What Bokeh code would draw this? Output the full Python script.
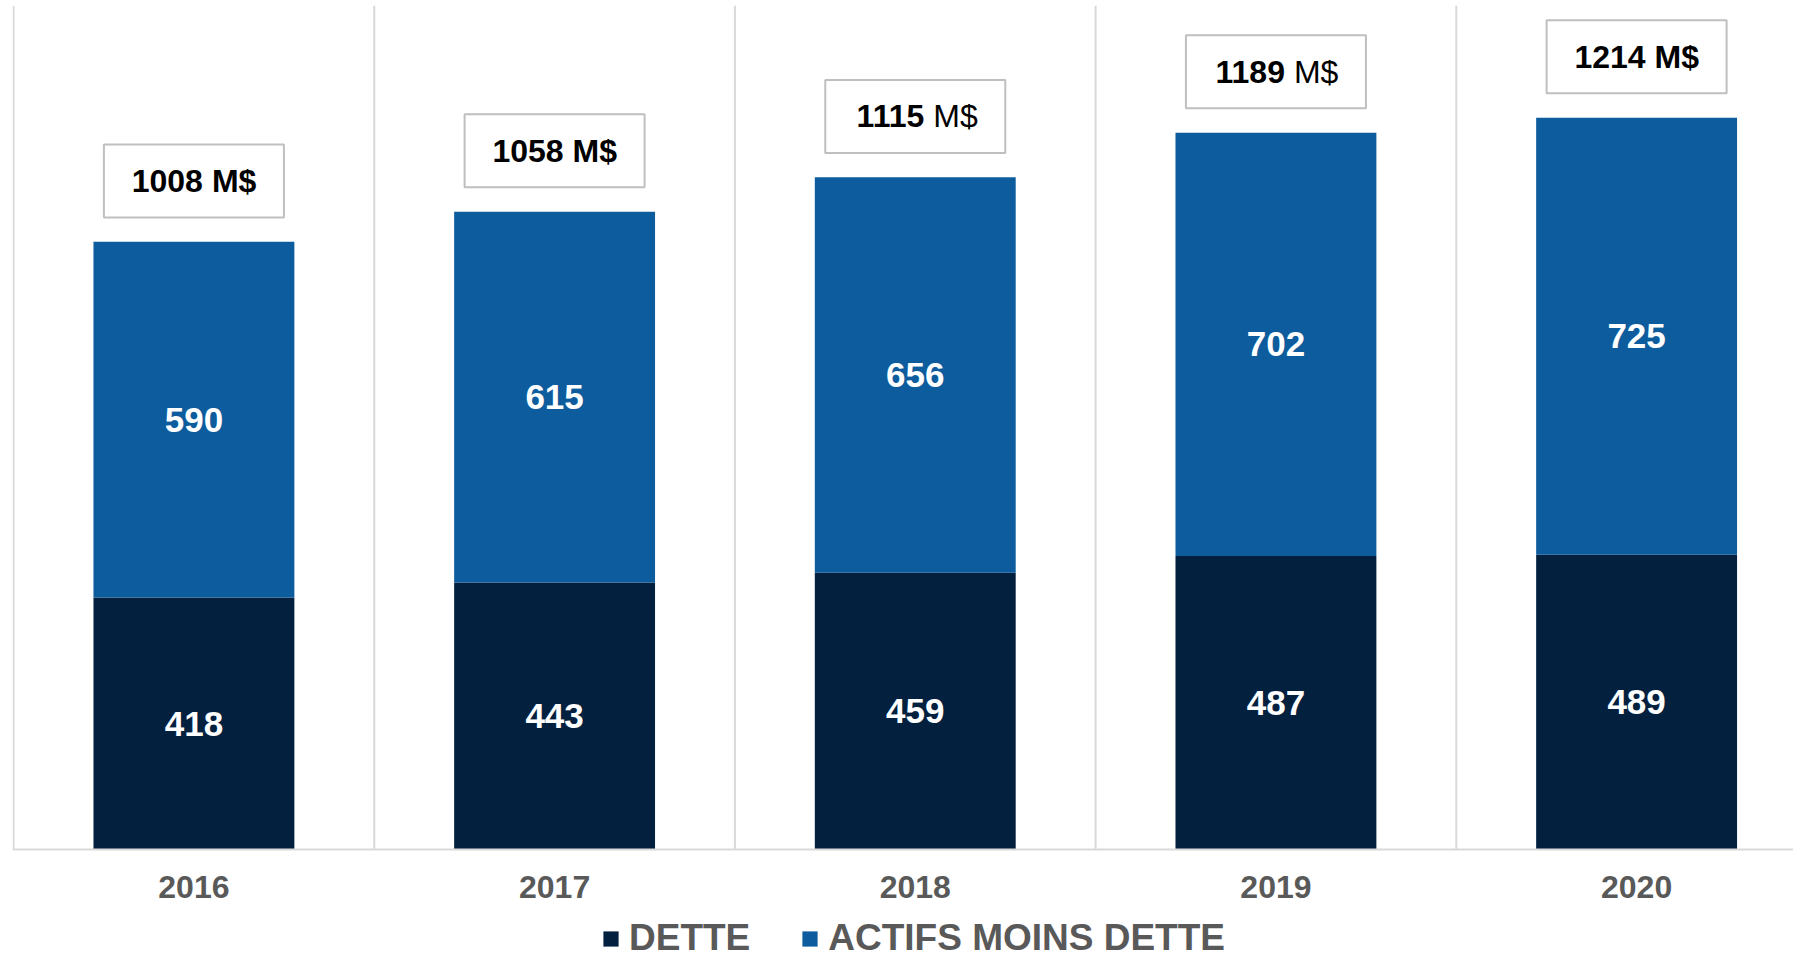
from bokeh.plotting import figure
from bokeh.models import ColumnDataSource, Range1d, Legend, LegendItem, Span
from bokeh.embed import file_html
from bokeh.resources import INLINE
from bokeh.core.properties import value

# ---- data ----
years = ["2016", "2017", "2018", "2019", "2020"]
dette = [418, 443, 459, 487, 489]
actifs_moins_dette = [590, 615, 656, 702, 725]
total_unit = "M$"
unit_style = ["bold", "bold", "normal", "normal", "bold"]
series_names = ["DETTE", "ACTIFS MOINS DETTE"]

# ---- style ----
NAVY = "#03203F"
BLUE = "#0D5C9D"
GRID = "#D9D9D9"
GREY_TXT = "#595959"
FONT = "Liberation Sans"
Y_TOP = 1400
Y_BOTTOM = -184

xs = list(range(len(years)))
totals = [d + a for d, a in zip(dette, actifs_moins_dette)]

src = ColumnDataSource(dict(
    x=xs,
    dette=dette,
    actifs=actifs_moins_dette,
    dette_mid=[d / 2 for d in dette],
    actifs_mid=[d + a / 2 for d, a in zip(dette, actifs_moins_dette)],
    dette_txt=[str(d) for d in dette],
    actifs_txt=[str(a) for a in actifs_moins_dette],
    total=totals,
    box_y=[t + 101 for t in totals],
    total_txt=[str(t) for t in totals],
    unit_txt=[total_unit] * len(years),
    unit_style=unit_style,
    year=years,
    zero=[0] * len(years),
))

p = figure(width=1793, height=960, output_backend="svg", toolbar_location=None,
           x_range=Range1d(-0.503, 4.435), y_range=Range1d(Y_BOTTOM, Y_TOP),
           x_axis_location=None, y_axis_location=None,
           min_border_left=12, min_border_right=0,
           min_border_top=5, min_border_bottom=0)
p.outline_line_color = None
p.background_fill_color = "white"
p.xgrid.grid_line_color = None
p.ygrid.grid_line_color = None

# category separators (between categories) and baseline
sep_x = [i - 0.5 for i in xs]
p.segment(x0=sep_x, y0=[0] * len(sep_x), x1=sep_x, y1=[Y_TOP] * len(sep_x),
          line_color=GRID, line_width=2)
p.add_layout(Span(location=0, dimension="width", line_color=GRID, line_width=2))

bars = p.vbar_stack(["dette", "actifs"], x="x", width=0.557, source=src,
                    color=[NAVY, BLUE], line_color=None)

# segment labels
p.text(x="x", y="dette_mid", text="dette_txt", source=src, text_color="white",
       text_font=value(FONT), text_font_style="bold", text_font_size="35px",
       text_align="center", text_baseline="middle")
p.text(x="x", y="actifs_mid", text="actifs_txt", source=src, text_color="white",
       text_font=value(FONT), text_font_style="bold", text_font_size="35px",
       text_align="center", text_baseline="middle")

# total boxes
p.rect(x="x", y="box_y", width=180, height=73, width_units="screen",
       height_units="screen", source=src, fill_color="white",
       line_color="#BFBFBF", line_width=2)
p.text(x="x", y="box_y", text="total_txt", source=src, text_color="black",
       text_font=value(FONT), text_font_style="bold", text_font_size="32px",
       text_align="right", text_baseline="middle", x_offset=9)
p.text(x="x", y="box_y", text="unit_txt", source=src, text_color="black",
       text_font=value(FONT), text_font_style="unit_style", text_font_size="32px",
       text_align="left", text_baseline="middle", x_offset=18)

# category labels
p.text(x="x", y="zero", text="year", source=src, text_color=GREY_TXT,
       text_font=value(FONT), text_font_style="bold", text_font_size="32px",
       text_align="center", text_baseline="middle", y_offset=37)

legend = Legend(items=[LegendItem(label=series_names[0], renderers=[bars[0]]),
                       LegendItem(label=series_names[1], renderers=[bars[1]])],
                orientation="horizontal", location=(589, 1),
                glyph_width=19, glyph_height=19, label_standoff=9, spacing=50,
                padding=0, margin=0, border_line_color=None,
                background_fill_alpha=0,
                label_text_font=FONT, label_text_font_style="bold",
                label_text_font_size="37px", label_text_color=GREY_TXT)
p.add_layout(legend)

open("out.html", "w").write(file_html(p, INLINE))
